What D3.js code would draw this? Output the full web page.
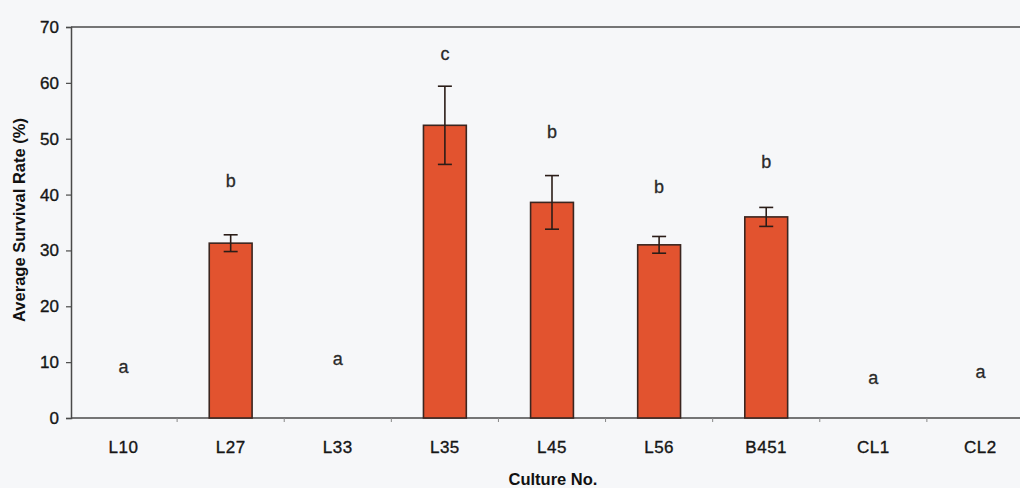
<!DOCTYPE html>
<html>
<head>
<meta charset="utf-8">
<script src="https://cdn.jsdelivr.net/npm/d3@7"></script>
<style>
  html, body { margin: 0; padding: 0; background: #f6f7f9; }
  svg { display: block; }
  text { font-family: Arial, "Liberation Sans", sans-serif; }
</style>
</head>
<body>
<svg id="chart" width="1020" height="488"></svg>
<script>
// Culture survival data (mean ± error) with significance groups
const cultures = ["L10", "L27", "L33", "L35", "L45", "L56", "B451", "CL1", "CL2"];
const survival = [0, 31.3, 0, 52.4, 38.6, 31.0, 36.0, 0, 0];
const errors   = [0, 1.5, 0, 7.0, 4.8, 1.5, 1.7, 0, 0];
const groups   = ["a", "b", "a", "c", "b", "b", "b", "a", "a"];
const groupLabelAt = [9.1, 42.4, 10.7, 65.3, 51.2, 41.4, 45.8, 7.3, 8.2];
const yTicks = [0, 10, 20, 30, 40, 50, 60, 70];

const svg = d3.select("#chart");
const plotLeft = 71, plotTop = 27, plotBottom = 418, rangeLeft = 70, rangeRight = 1034;

const x = d3.scaleBand().domain(cultures).range([rangeLeft, rangeRight]).padding(0);
const y = d3.scaleLinear().domain([0, 70]).range([plotBottom, plotTop]);
const barW = x.bandwidth() * 0.4;

// frame: top border
svg.append("line").attr("x1", plotLeft).attr("x2", 1020).attr("y1", y(70)).attr("y2", y(70))
  .attr("stroke", "#4a4a4a").attr("stroke-width", 1.5);

// y axis
const yAxis = svg.append("g").attr("transform", `translate(${plotLeft},0)`)
  .call(d3.axisLeft(y).tickValues(yTicks).tickSize(5).tickPadding(7).tickFormat(d3.format("d")));
yAxis.select(".domain").attr("stroke", "#4a4a4a").attr("stroke-width", 1.5);
yAxis.selectAll(".tick line").attr("stroke", "#4a4a4a").attr("stroke-width", 1.2);
yAxis.selectAll(".tick text").attr("fill", "#151515").attr("stroke", "#151515").attr("stroke-width", 0.35)
  .style("font-size", "17px");

// x axis with ticks on category boundaries
const xAxis = svg.append("g").attr("transform", `translate(0,${plotBottom})`);
xAxis.append("line").attr("x1", plotLeft).attr("x2", 1020).attr("y1", 0).attr("y2", 0)
  .attr("stroke", "#4a4a4a").attr("stroke-width", 1.5);
xAxis.selectAll("line.bt").data(cultures.slice(1)).join("line").attr("class", "bt")
  .attr("x1", d => x(d)).attr("x2", d => x(d)).attr("y1", 0).attr("y2", 4)
  .attr("stroke", "#888").attr("stroke-width", 1);
xAxis.selectAll("text.cl").data(cultures).join("text").attr("class", "cl")
  .attr("x", d => x(d) + x.bandwidth() / 2).attr("y", 35)
  .attr("text-anchor", "middle").attr("fill", "#151515").attr("stroke", "#151515").attr("stroke-width", 0.35)
  .style("font-size", "17px").style("letter-spacing", "0.5px")
  .text(d => d);

// bars
const rows = cultures.map((c, i) => ({ c, v: survival[i], e: errors[i], g: groups[i], ly: groupLabelAt[i] }));
const cx = d => x(d.c) + x.bandwidth() / 2;

svg.selectAll("rect.bar").data(rows.filter(d => d.v > 0)).join("rect").attr("class", "bar")
  .attr("x", d => cx(d) - barW / 2).attr("width", barW)
  .attr("y", d => y(d.v)).attr("height", d => y(0) - y(d.v))
  .attr("fill", "#e2532f").attr("stroke", "#3b2620").attr("stroke-width", 1.6);

// error bars
const eb = svg.selectAll("g.err").data(rows.filter(d => d.e > 0)).join("g").attr("class", "err")
  .attr("stroke", "#2b1d18").attr("stroke-width", 1.6);
eb.append("line").attr("x1", cx).attr("x2", cx).attr("y1", d => y(d.v + d.e)).attr("y2", d => y(d.v - d.e));
eb.append("line").attr("x1", d => cx(d) - 7).attr("x2", d => cx(d) + 7).attr("y1", d => y(d.v + d.e)).attr("y2", d => y(d.v + d.e));
eb.append("line").attr("x1", d => cx(d) - 7).attr("x2", d => cx(d) + 7).attr("y1", d => y(d.v - d.e)).attr("y2", d => y(d.v - d.e));

// significance group letters
svg.selectAll("text.grp").data(rows).join("text").attr("class", "grp")
  .attr("x", cx).attr("y", d => y(d.ly)).attr("dy", "0.35em")
  .attr("text-anchor", "middle").attr("fill", "#2a2a2a").attr("stroke", "#2a2a2a").attr("stroke-width", 0.3)
  .style("font-size", "18px")
  .text(d => d.g);

// axis titles
svg.append("text").attr("transform", `translate(25,220) rotate(-90)`)
  .attr("text-anchor", "middle").attr("fill", "#111").style("font-size", "16.5px").style("font-weight", "bold")
  .text("Average Survival Rate (%)");
svg.append("text").attr("x", 553).attr("y", 485)
  .attr("text-anchor", "middle").attr("fill", "#111").style("font-size", "16.5px").style("font-weight", "bold")
  .text("Culture No.");
</script>
</body>
</html>
